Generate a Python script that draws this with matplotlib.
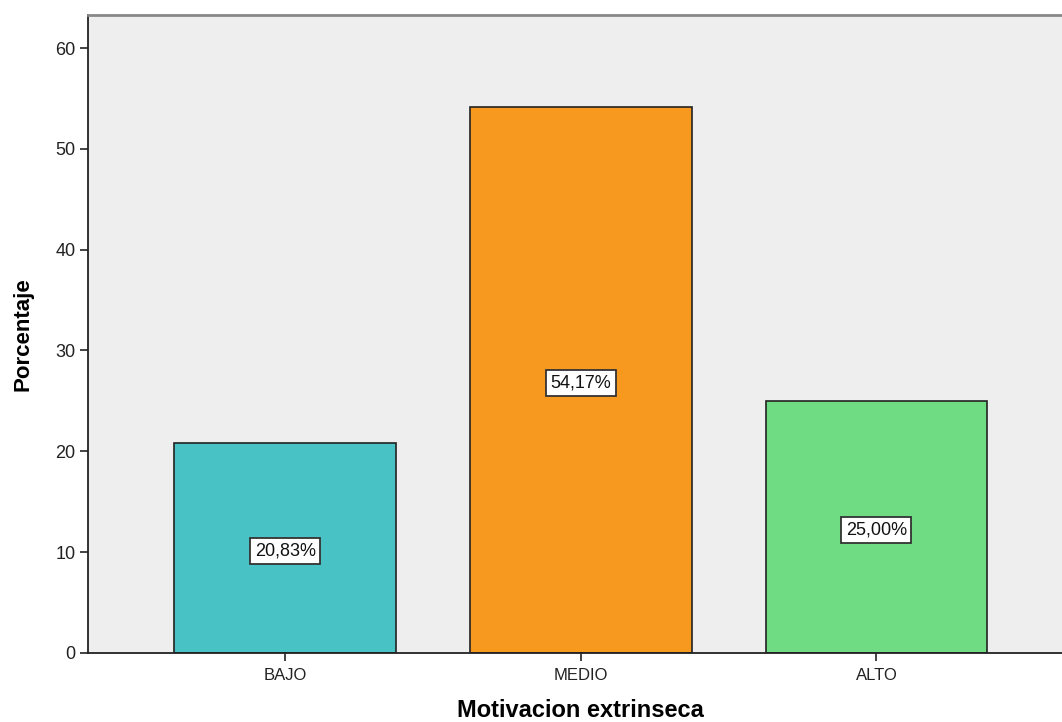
import matplotlib
matplotlib.use("Agg")
import matplotlib.pyplot as plt

categories = ["BAJO", "MEDIO", "ALTO"]
percentages = [20.83, 54.17, 25.00]
colors = ["#48C2C5", "#F7991E", "#6FDB82"]
yticks = [0, 10, 20, 30, 40, 50, 60]

plt.rcParams["font.family"] = ["Liberation Sans", "DejaVu Sans"]

fig = plt.figure(figsize=(10.62, 7.22), dpi=100)
ax = fig.add_axes([0.0829, 0.0956, 0.928, 0.884])
ax.set_facecolor("#EEEEEE")

x = range(len(categories))
ax.bar(x, percentages, width=0.75, color=colors, edgecolor="#222222", linewidth=1.2, zorder=2)

for xi, v in zip(x, percentages):
    label = f"{v:.2f}%".replace(".", ",")
    ax.annotate(label, xy=(xi, v / 2), xytext=(0, -2.5), textcoords="offset points",
                ha="center", va="center", fontsize=13, color="#111111",
                bbox=dict(boxstyle="square,pad=0.25", facecolor="white", edgecolor="#333333", linewidth=1.3),
                zorder=3)

ax.set_xlim(-0.667, 2.667)
ax.set_ylim(0, 63.3)
ax.set_xticks(list(x))
ax.set_xticklabels(categories, fontsize=12, color="#222222")
ax.set_yticks(yticks)
ax.set_yticklabels([str(t) for t in yticks], fontsize=13, color="#222222")
ax.tick_params(axis="x", length=6, width=1.2, color="#222222", pad=5)
ax.tick_params(axis="y", length=6, width=1.2, color="#222222", pad=3)

ax.spines["left"].set_color("#222222")
ax.spines["left"].set_linewidth(1.3)
ax.spines["bottom"].set_color("#222222")
ax.spines["bottom"].set_linewidth(1.3)
ax.spines["top"].set_color("#888888")
ax.spines["top"].set_linewidth(2)
ax.spines["right"].set_color("#888888")
ax.spines["right"].set_linewidth(2)

ax.set_xlabel("Motivacion extrinseca", fontsize=17, fontweight="bold", labelpad=11)
ax.set_ylabel("Porcentaje", fontsize=16, fontweight="bold", labelpad=16)

fig.savefig("out.png", dpi=100, facecolor="white")
